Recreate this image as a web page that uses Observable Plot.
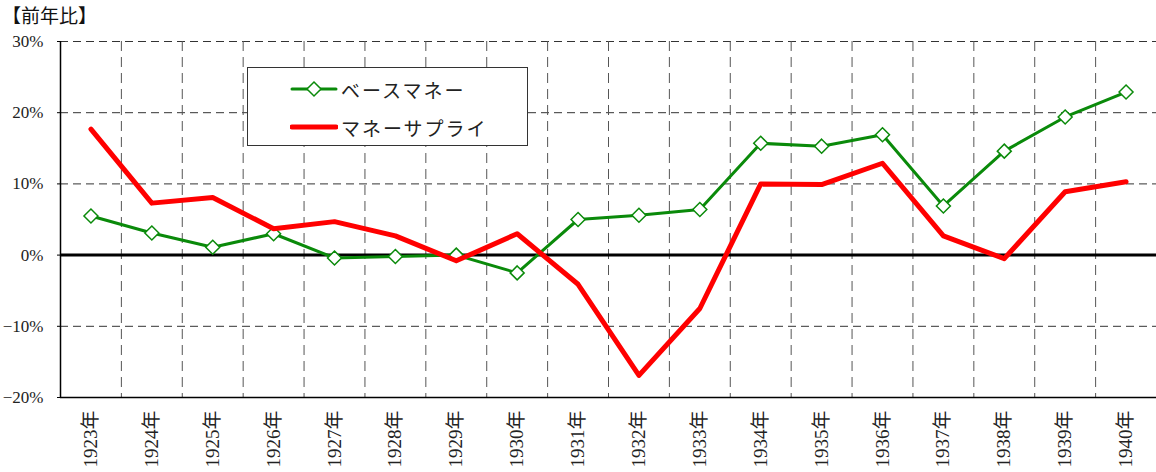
<!DOCTYPE html>
<html>
<head>
<meta charset="utf-8">
<script src="https://cdn.jsdelivr.net/npm/d3@7"></script>
<script src="https://cdn.jsdelivr.net/npm/@observablehq/plot@0.6"></script>
<style>
  body { margin: 0; background: #fff; }
  #wrap { position: relative; width: 1156px; height: 472px; overflow: hidden; }
  #title { position: absolute; left: 2px; top: 1px; font: 19px "Noto Sans CJK JP", sans-serif; color: #111; }
  #legend { position: absolute; left: 247px; top: 67px; width: 281px; height: 79px; box-sizing: border-box;
            border: 1px solid #333; background: #fff; font: 19px "Noto Sans CJK JP", sans-serif; color: #222; letter-spacing: 2px; }
  .item { position: absolute; left: 42px; height: 24px; display: flex; align-items: center; }
  .item svg { margin-right: 3px; }
  #chart svg text { font-family: "Liberation Serif", "Noto Sans CJK JP", serif; fill: #222; }
</style>
</head>
<body>
<div id="wrap">
  <div id="title">【前年比】</div>
  <div id="chart"></div>
  <div id="legend"></div>
</div>
<script>
// Year-on-year growth rates (%), 1923–1940
const years = [1923, 1924, 1925, 1926, 1927, 1928, 1929, 1930, 1931, 1932, 1933, 1934, 1935, 1936, 1937, 1938, 1939, 1940];
const baseMoney = [5.5, 3.1, 1.1, 3.0, -0.4, -0.2, 0.0, -2.5, 5.0, 5.6, 6.4, 15.7, 15.3, 16.9, 6.9, 14.6, 19.4, 22.9];
const moneySupply = [17.7, 7.3, 8.1, 3.7, 4.7, 2.7, -0.8, 3.0, -4.1, -16.9, -7.5, 10.0, 9.9, 12.9, 2.7, -0.5, 8.9, 10.3];
const seriesNames = ["ベースマネー", "マネーサプライ"];
const yTicks = [-20, -10, 0, 10, 20, 30];

const green = "#0a8a0a";
const red = "#ff0000";
const serif = "Liberation Serif, Noto Sans CJK JP, serif";

const base = years.map((year, i) => ({year, value: baseMoney[i]}));
const supply = years.map((year, i) => ({year, value: moneySupply[i]}));

// category boundaries for the vertical dashed grid
const bounds = years.slice(1).map(y => y - 0.5);
const yMin = d3.min(yTicks), yMax = d3.max(yTicks);
const pct = d => (d < 0 ? "\u2212" : "") + Math.abs(d) + "%";

const chart = Plot.plot({
  width: 1156,
  height: 472,
  marginTop: 41,
  marginBottom: 75,
  marginLeft: 60,
  marginRight: 0,
  style: { background: "#fff" },
  x: { domain: [years[0] - 0.5, years[years.length - 1] + 0.5] },
  y: { domain: [yMin, yMax] },
  marks: [
    Plot.ruleY(yTicks.filter(d => d !== 0 && d !== yMin), { stroke: "#333", strokeDasharray: "8,5", strokeWidth: 1 }),
    Plot.ruleX(bounds, { stroke: "#555", strokeDasharray: "10,6", strokeWidth: 1 }),
    Plot.ruleY([yMin], { stroke: "#000", strokeWidth: 1.5 }),
    Plot.ruleX([years[0] - 0.5], { stroke: "#000", strokeWidth: 1.5 }),
    Plot.ruleY([0], { stroke: "#000", strokeWidth: 3 }),
    Plot.line(base, { x: "year", y: "value", stroke: green, strokeWidth: 3 }),
    Plot.dot(base, { x: "year", y: "value", symbol: "diamond2", r: 6.3, fill: "#fff", stroke: green, strokeWidth: 1.5 }),
    Plot.line(supply, { x: "year", y: "value", stroke: red, strokeWidth: 5 }),
    Plot.axisY(yTicks, { tickFormat: pct, tickSize: 3, tickPadding: 14, fontSize: 17, fontFamily: serif, label: null }),
    Plot.axisX(years, { tickFormat: d => d + "年", tickRotate: -90, tickSize: 0, tickPadding: 13, fontSize: 19, fontFamily: serif, label: null })
  ]
});
document.getElementById("chart").appendChild(chart);

// legend
const legend = document.getElementById("legend");
const swatches = [
  `<svg width="48" height="20"><line x1="2" y1="10" x2="46" y2="10" stroke="${green}" stroke-width="3" stroke-linecap="round"/><path d="M24,3 L31,10 L24,17 L17,10 Z" fill="#fff" stroke="${green}" stroke-width="1.5"/></svg>`,
  `<svg width="48" height="20"><line x1="2" y1="10" x2="46" y2="10" stroke="${red}" stroke-width="5" stroke-linecap="round"/></svg>`
];
seriesNames.forEach((name, i) => {
  const el = document.createElement("div");
  el.className = "item";
  el.style.top = (i === 0 ? 9 : 47) + "px";
  el.innerHTML = swatches[i] + "<span>" + name + "</span>";
  legend.appendChild(el);
});
</script>
</body>
</html>
